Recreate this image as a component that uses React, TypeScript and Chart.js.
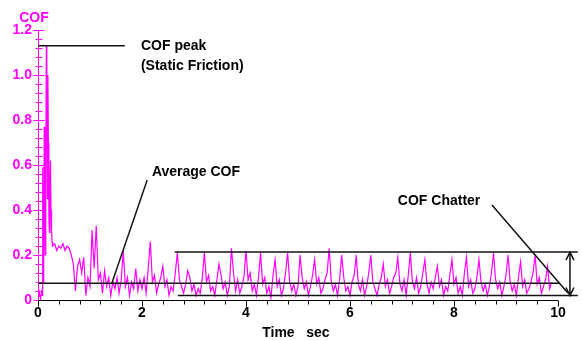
import React, { useEffect, useRef } from 'react';
import { Chart, registerables } from 'chart.js';

Chart.register(...registerables);

const MAGENTA = '#ff00ff';
const FONT = '"Liberation Sans", Arial, sans-serif';

// Start-up transient, sampled every 0.01 s from t = 0.00 to 0.28 s
const START_STEP = 0.01;
const START_COF = [
  0.02, 0.01, 0.02, 0.03, 0.02, 0.01, 0.02, 0.03, 0.02,
  0.59, 0.08, 0.15, 0.77, 0.35, 0.2, 0.6, 1.13, 0.9, 0.45, 1.0,
  0.7, 0.35, 0.3, 0.5, 0.62, 0.4, 0.31, 0.26, 0.24,
];

// Running part, sampled every 0.04 s starting at t = 0.32 s
const RUN_START = 0.32;
const RUN_STEP = 0.04;
const COF_SEC0 = [0.25, 0.22, 0.24, 0.23, 0.25, 0.22, 0.24, 0.23, 0.2, 0.16, 0.04, 0.15, 0.18, 0.12, 0.19, 0.02, 0.1];
const COF_SEC1 = [0.06, 0.31, 0.14, 0.33, 0.09, 0.12, 0.03, 0.13, 0.06, 0.1, 0.02, 0.08, 0.05, 0.1, 0.03, 0.09, 0.22, 0.06, 0.1, 0.02, 0.08, 0.05, 0.14, 0.04, 0.09];
const COF_SEC2 = [0.05, 0.1, 0.03, 0.14, 0.26, 0.08, 0.11, 0.03, 0.07, 0.1, 0.15, 0.06, 0.09, 0.02, 0.06, 0.04, 0.12, 0.21, 0.09, 0.06, 0.03, 0.07, 0.13, 0.1, 0.04];
const COF_SEC3 = [0.07, 0.02, 0.05, 0.03, 0.1, 0.21, 0.08, 0.11, 0.04, 0.06, 0.02, 0.09, 0.16, 0.11, 0.05, 0.08, 0.02, 0.06, 0.23, 0.12, 0.04, 0.09, 0.03, 0.06, 0.1];
const COF_SEC4 = [0.22, 0.09, 0.12, 0.04, 0.07, 0.02, 0.1, 0.21, 0.07, 0.1, 0.03, 0.06, 0.01, 0.11, 0.18, 0.06, 0.09, 0.02, 0.05, 0.12, 0.21, 0.08, 0.04, 0.07, 0.02];
const COF_SEC5 = [0.06, 0.2, 0.1, 0.05, 0.08, 0.02, 0.06, 0.11, 0.18, 0.07, 0.1, 0.03, 0.05, 0.09, 0.12, 0.23, 0.08, 0.04, 0.07, 0.02, 0.09, 0.2, 0.1, 0.04, 0.06];
const COF_SEC6 = [0.02, 0.08, 0.11, 0.2, 0.07, 0.04, 0.09, 0.02, 0.06, 0.12, 0.2, 0.08, 0.05, 0.02, 0.07, 0.1, 0.16, 0.06, 0.09, 0.03, 0.06, 0.1, 0.12, 0.19, 0.07];
const COF_SEC7 = [0.04, 0.09, 0.02, 0.11, 0.21, 0.08, 0.05, 0.1, 0.03, 0.06, 0.12, 0.18, 0.07, 0.03, 0.08, 0.05, 0.1, 0.15, 0.06, 0.09, 0.02, 0.06, 0.04, 0.11, 0.18];
const COF_SEC8 = [0.07, 0.1, 0.03, 0.06, 0.02, 0.12, 0.19, 0.06, 0.09, 0.03, 0.05, 0.1, 0.18, 0.08, 0.04, 0.07, 0.02, 0.06, 0.12, 0.21, 0.09, 0.05, 0.08, 0.02, 0.06];
const COF_SEC9 = [0.11, 0.2, 0.08, 0.04, 0.07, 0.02, 0.1, 0.17, 0.06, 0.09, 0.03, 0.05, 0.08, 0.12, 0.2, 0.07, 0.1, 0.03, 0.06, 0.09, 0.15, 0.05, 0.08];

const X_MIN = 0;
const X_MAX = 10;
const X_STEP = 2;
const X_MINOR = 0.4;
const Y_MIN = 0;
const Y_MAX = 1.2;
const Y_STEP = 0.2;
const Y_MINOR = 0.04;

// Annotation values (data units)
const PEAK_COF = 1.13;
const AVG_COF = 0.075;
const CHATTER_HIGH = 0.213;
const CHATTER_LOW = 0.02;

function buildPoints() {
  const pts: { x: number; y: number }[] = [];
  START_COF.forEach((v, i) => pts.push({ x: +(i * START_STEP).toFixed(3), y: v }));
  const run = [
    ...COF_SEC0, ...COF_SEC1, ...COF_SEC2, ...COF_SEC3, ...COF_SEC4,
    ...COF_SEC5, ...COF_SEC6, ...COF_SEC7, ...COF_SEC8, ...COF_SEC9,
  ];
  run.forEach((v, i) => pts.push({ x: +(RUN_START + i * RUN_STEP).toFixed(3), y: v }));
  return pts;
}

const decoPlugin = {
  id: 'cofDeco',
  afterDatasetsDraw(chart: any) {
    const { ctx } = chart;
    const xs = chart.scales.x;
    const ys = chart.scales.y;
    const X = (v: number) => xs.getPixelForValue(v);
    const Y = (v: number) => ys.getPixelForValue(v);
    ctx.save();

    // Y axis (magenta)
    const x0 = Math.round(X(0)) + 0.5;
    ctx.strokeStyle = MAGENTA;
    ctx.lineWidth = 1;
    ctx.beginPath();
    ctx.moveTo(x0, Y(Y_MIN));
    ctx.lineTo(x0, Y(Y_MAX));
    const nY = Math.round((Y_MAX - Y_MIN) / Y_MINOR);
    for (let i = 0; i <= nY; i++) {
      const v = Y_MIN + i * Y_MINOR;
      const yy = Math.round(Y(v)) + 0.5;
      const major = i % Math.round(Y_STEP / Y_MINOR) === 0;
      const len = major ? 5 : 3;
      ctx.moveTo(x0 - len, yy);
      ctx.lineTo(x0 + len + 1, yy);
    }
    ctx.stroke();

    // X axis (black)
    const y0 = Math.round(Y(0)) + 0.5;
    ctx.strokeStyle = '#000';
    ctx.beginPath();
    ctx.moveTo(X(X_MIN), y0);
    ctx.lineTo(X(X_MAX), y0);
    const nX = Math.round((X_MAX - X_MIN) / X_MINOR);
    for (let i = 0; i <= nX; i++) {
      const v = X_MIN + i * X_MINOR;
      const xx = Math.round(X(v)) + 0.5;
      const major = i % Math.round(X_STEP / X_MINOR) === 0;
      ctx.moveTo(xx, y0);
      ctx.lineTo(xx, y0 + (major ? 6 : 4));
    }
    ctx.stroke();

    // Annotation lines
    ctx.strokeStyle = '#111';
    ctx.lineWidth = 1.5;
    const seg = (a: number, b: number, c: number, d: number) => {
      ctx.beginPath();
      ctx.moveTo(X(a), Y(b));
      ctx.lineTo(X(c), Y(d));
      ctx.stroke();
    };
    seg(0, PEAK_COF, 1.67, PEAK_COF);
    seg(0, AVG_COF, 10.04, AVG_COF);
    seg(1.42, AVG_COF, 2.1, 0.533);
    seg(2.63, CHATTER_HIGH, 10.38, CHATTER_HIGH);
    seg(2.69, CHATTER_LOW, 10.38, CHATTER_LOW);
    seg(8.73, 0.422, 10.19, 0.031);

    // Double arrow
    const ax = X(10.23);
    const at = Y(CHATTER_HIGH);
    const ab = Y(CHATTER_LOW);
    ctx.beginPath();
    ctx.moveTo(ax, at);
    ctx.lineTo(ax, ab);
    ctx.moveTo(ax - 4, at + 8);
    ctx.lineTo(ax, at);
    ctx.lineTo(ax + 4, at + 8);
    ctx.moveTo(ax - 4, ab - 8);
    ctx.lineTo(ax, ab);
    ctx.lineTo(ax + 4, ab - 8);
    ctx.stroke();

    // Texts
    ctx.fillStyle = '#000';
    ctx.font = `bold 14px ${FONT}`;
    ctx.textAlign = 'left';
    ctx.textBaseline = 'middle';
    ctx.fillText('COF peak', X(1.98), Y(1.127));
    ctx.fillText('(Static Friction)', X(1.98), Y(1.04));
    ctx.fillText('Average COF', X(2.19), Y(0.569));
    ctx.fillText('COF Chatter', X(6.92), Y(0.44));

    ctx.textAlign = 'center';
    ctx.fillText('Time   sec', X(4.96), Y(0) + 33);

    ctx.fillStyle = MAGENTA;
    ctx.fillText('COF', X(0) - 4, Y(Y_MAX) - 12);

    ctx.restore();
  },
};

export default function App() {
  const ref = useRef<HTMLCanvasElement | null>(null);

  useEffect(() => {
    if (!ref.current) return;
    const chart = new Chart(ref.current, {
      type: 'line',
      data: {
        datasets: [
          {
            data: buildPoints(),
            borderColor: MAGENTA,
            borderWidth: 1.2,
            pointRadius: 0,
            tension: 0,
            fill: false,
          },
        ],
      },
      options: {
        responsive: false,
        maintainAspectRatio: false,
        animation: false,
        devicePixelRatio: 1,
        layout: { padding: { top: 30, right: 24, left: 0, bottom: 0 } },
        plugins: { legend: { display: false }, tooltip: { enabled: false } },
        scales: {
          x: {
            type: 'linear',
            min: X_MIN,
            max: X_MAX,
            grid: { display: false, drawTicks: false },
            border: { display: false },
            afterFit: (s: any) => { s.height = 41; },
            ticks: {
              stepSize: X_STEP,
              color: '#000',
              padding: 5,
              maxRotation: 0,
              autoSkip: false,
              font: { family: FONT, size: 14, weight: 'bold' },
            },
          },
          y: {
            type: 'linear',
            min: Y_MIN,
            max: Y_MAX,
            grid: { display: false, drawTicks: false },
            border: { display: false },
            afterFit: (s: any) => { s.width = 38; },
            ticks: {
              stepSize: Y_STEP,
              color: MAGENTA,
              padding: 6,
              font: { family: FONT, size: 14, weight: 'bold' },
              callback: (v: any) => (Number(v) === 0 ? '0' : Number(v).toFixed(1)),
            },
          },
        },
      },
      plugins: [decoPlugin],
    } as any);
    return () => chart.destroy();
  }, []);

  return (
    <div style={{ position: 'fixed', left: 0, top: 0, width: 582, height: 341, background: '#fff' }}>
      <canvas ref={ref} width={582} height={341} style={{ display: 'block' }} />
    </div>
  );
}
